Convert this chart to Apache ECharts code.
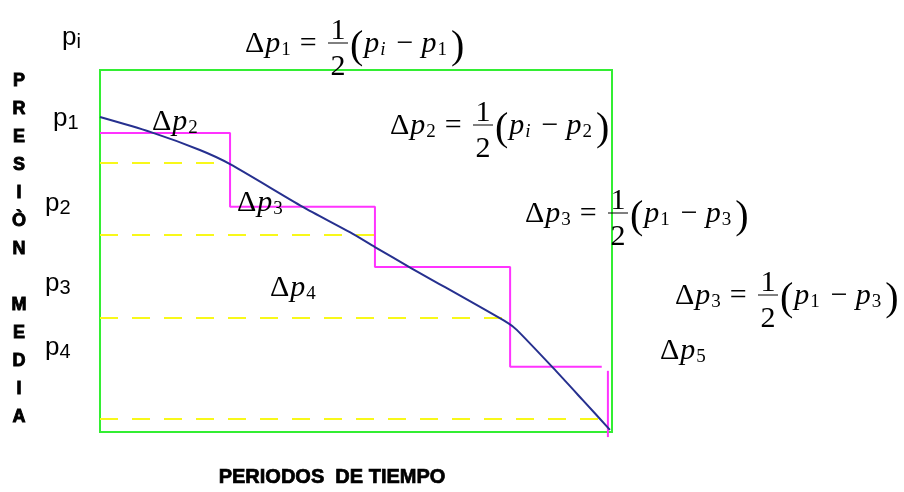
<!DOCTYPE html>
<html>
<head>
<meta charset="utf-8">
<script src="https://cdn.jsdelivr.net/npm/echarts@6/dist/echarts.min.js"></script>
<style>
html, body { margin: 0; padding: 0; background: #fff; }
#main { width: 904px; height: 492px; }
</style>
</head>
<body>
<div id="main"></div>
<script>
// curva de presion media (tiempo 0..10, presion 0..10)
var curveT = [0, 0.98, 1.95, 2.54, 3.96, 4.88, 5.37, 6.05, 7.97, 8.14, 8.85, 9.43, 9.96];
var curveP = [8.70, 8.29, 7.79, 7.40, 6.22, 5.52, 5.11, 4.55, 3.01, 2.82, 1.77, 0.88, 0.06];

// escalones (presion por periodo)
var stepT = [0, 2.54, 5.37, 8.01, 9.80];
var stepP = [8.26, 6.22, 4.56, 1.80, 1.80];
var tailT = [9.92, 9.92];
var tailP = [1.69, -0.14];

// lineas amarillas (presion promedio de cada periodo)
var avgP = [7.43, 5.44, 3.15, 0.36];
var avgEnd = [2.50, 5.37, 7.97, 9.86];

// textos
var pLabels = [['p', 'i'], ['p', '1'], ['p', '2'], ['p', '3'], ['p', '4']];
var fDelta = ['1', '2', '3', '3'];
var fFirst = ['i', 'i', '1', '1'];
var fSecond = ['1', '2', '3', '3'];
var innerDelta = ['2', '3', '4'];
var yTitle = ['P', 'R', 'E', 'S', 'I', 'Ò', 'N', '', 'M', 'E', 'D', 'I', 'A'];
var xTitle = 'PERIODOS  DE TIEMPO';

var serif = 'Liberation Serif';
var sans = 'Liberation Sans';

var mathRich = {
    d: { fontFamily: serif, fontSize: 30, lineHeight: 32, fill: '#000' },
    p: { fontFamily: serif, fontSize: 30, fontStyle: 'italic', lineHeight: 32, padding: [0, 1, 0, 1], fill: '#000' },
    s: { fontFamily: serif, fontSize: 19, lineHeight: 15, verticalAlign: 'bottom', padding: [0, 4, 0, 0], fill: '#000' },
    si: { fontFamily: serif, fontSize: 19, fontStyle: 'italic', lineHeight: 15, verticalAlign: 'bottom', padding: [0, 4, 0, 0], fill: '#000' },
    o: { fontFamily: serif, fontSize: 40, lineHeight: 23, verticalAlign: 'top', fill: '#000' },
    e: { fontFamily: serif, fontSize: 30, lineHeight: 32, padding: [0, 0, 0, 5], fill: '#000' },
    m: { fontFamily: serif, fontSize: 30, lineHeight: 32, padding: [0, 7, 0, 7], fill: '#000' }
};

var sansRich = {
    m: { fontFamily: sans, fontSize: 26, lineHeight: 28, fill: '#000' },
    s: { fontFamily: sans, fontSize: 20, lineHeight: 12, verticalAlign: 'bottom', fill: '#000' }
};

function mathText(x, base, text) {
    return {
        type: 'text', x: x, y: base - 9.3, z: 10,
        style: { text: text, rich: mathRich, align: 'left', verticalAlign: 'middle', fontFamily: serif, fontSize: 30 }
    };
}

function plainMath(x, base, text) {
    return {
        type: 'text', x: x, y: base - 9.3, z: 10,
        style: { text: text, fontFamily: serif, fontSize: 30, fill: '#000', align: 'center', verticalAlign: 'middle' }
    };
}

function subTag(s) {
    return s === 'i' ? '{si|i}' : '{s|' + s + '}';
}

function formula(x, base, i) {
    var xf = x + 93;
    return [
        mathText(x, base, '{d|Δ}{p|p}' + subTag(fDelta[i]) + '{e|=}'),
        plainMath(xf, base - 13, '1'),
        { type: 'line', z: 10, shape: { x1: xf - 10, y1: base - 10, x2: xf + 10, y2: base - 10 }, style: { stroke: '#000', lineWidth: 1 } },
        plainMath(xf, base + 23, '2'),
        mathText(x + 105, base, '{o|(}{p|p}' + subTag(fFirst[i]) + '{m|−}{p|p}' + subTag(fSecond[i]) + '{o|)}')
    ];
}

var graphics = [];
var formulaPos = [[245, 53], [390, 135], [525, 223], [675, 305]];
formulaPos.forEach(function (pos, i) {
    graphics = graphics.concat(formula(pos[0], pos[1], i));
});

var innerPos = [[152, 131], [237, 212], [270, 297]];
innerPos.forEach(function (pos, i) {
    graphics.push(mathText(pos[0], pos[1], '{d|Δ}{p|p}' + subTag(innerDelta[i])));
});
graphics.push(mathText(660, 360, '{d|Δ}{p|p}{s|5}'));

var pPos = [[62, 46], [53, 127], [45, 212], [45, 292], [45, 356]];
pLabels.forEach(function (lb, i) {
    graphics.push({
        type: 'text', x: pPos[i][0], y: pPos[i][1] - 8, z: 10,
        style: { text: '{m|' + lb[0] + '}{s|' + lb[1] + '}', rich: sansRich, align: 'left', verticalAlign: 'middle', fontFamily: sans, fontSize: 26 }
    });
});

graphics.push({
    type: 'text', x: 19, y: 67, z: 10,
    style: {
        text: yTitle.join('\n'), fontFamily: sans, fontSize: 18, fontWeight: 'bold',
        lineHeight: 28, fill: '#000', stroke: '#000', lineWidth: 0.9, align: 'center', verticalAlign: 'top'
    }
});
graphics.push({
    type: 'text', x: 332, y: 477, z: 10,
    style: {
        text: xTitle, fontFamily: sans, fontSize: 20, fontWeight: 'bold',
        fill: '#000', stroke: '#000', lineWidth: 0.7, align: 'center', verticalAlign: 'middle'
    }
});

var series = [];
avgP.forEach(function (v, i) {
    series.push({
        type: 'line', symbol: 'none', silent: true,
        data: [[0, v], [avgEnd[i], v]],
        lineStyle: { color: '#f8f81a', width: 2, type: [18, 14] }
    });
});
series.push({
    type: 'line', symbol: 'none', step: 'end', silent: true,
    data: stepT.map(function (t, i) { return [t, stepP[i]]; }),
    lineStyle: { color: '#ff33ff', width: 2 }
});
series.push({
    type: 'line', symbol: 'none', silent: true, clip: false,
    data: tailT.map(function (t, i) { return [t, tailP[i]]; }),
    lineStyle: { color: '#ff33ff', width: 2 }
});
series.push({
    type: 'line', symbol: 'none', silent: true, clip: false, smooth: 0.25,
    data: curveT.map(function (t, i) { return [t, curveP[i]]; }),
    lineStyle: { color: '#26308f', width: 2 }
});

var chart = echarts.init(document.getElementById('main'));
chart.setOption({
    backgroundColor: '#ffffff',
    animation: false,
    grid: {
        left: 100, right: 292, top: 70, bottom: 60,
        show: true, borderColor: '#33ee33', borderWidth: 2, backgroundColor: 'transparent'
    },
    xAxis: {
        type: 'value', min: 0, max: 10,
        axisLine: { show: false }, axisTick: { show: false },
        axisLabel: { show: false }, splitLine: { show: false }
    },
    yAxis: {
        type: 'value', min: 0, max: 10,
        axisLine: { show: false }, axisTick: { show: false },
        axisLabel: { show: false }, splitLine: { show: false }
    },
    graphic: graphics,
    series: series
});
</script>
</body>
</html>
